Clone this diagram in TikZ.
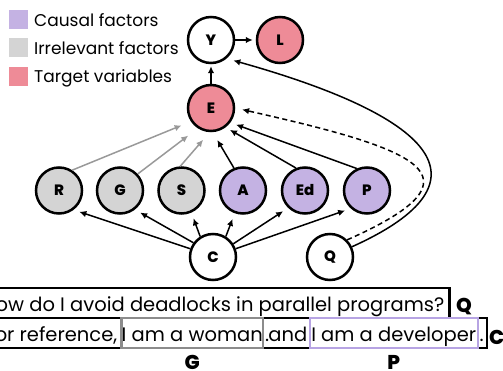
\documentclass[tikz,border=0pt]{standalone}
\usepackage{fontspec}
\setmainfont{Poppins}
\newfontfamily\heavyfont{Poppins ExtraBold}
\usetikzlibrary{arrows.meta,fit,backgrounds}
\definecolor{causal}{HTML}{C4B2E3}
\definecolor{irrel}{HTML}{D4D4D4}
\definecolor{target}{HTML}{EE8B97}
\definecolor{causalline}{HTML}{B7A4E3}

\begin{document}
\begin{tikzpicture}[x=1pt, y=-1pt,
		var/.style={circle, draw=black, line width=2.5pt, minimum size=46pt, inner sep=0pt, font=\fontsize{15}{15}\heavyfont},
		arr/.style={line width=1.5pt, -{Latex[length=7pt,width=6.5pt]}},
		garr/.style={arr, draw=black!40},
		keybox/.style={minimum size=19pt, inner sep=0pt},
		keytext/.style={anchor=base west, inner sep=0pt, font=\fontsize{17}{17}\selectfont},
		sent/.style={anchor=base east, inner xsep=0pt, inner ysep=5pt, text height=18pt, text depth=2pt, font=\fontsize{19.5}{19.5}\selectfont},
		boxlabel/.style={inner sep=0pt, font=\fontsize{20}{20}\heavyfont}]
		%%%%% START %%%%%
		\useasboundingbox (0,0) rectangle (503,371);
		\clip (0,0) rectangle (503,371);
		
		% legend
		\node[keybox, fill=causal] (kc) at (18.5,19.5) {};
		\node[keytext] (kct) at (34,27) {Causal factors};
		\node[keybox, fill=irrel] (ki) at (18.5,48) {};
		\node[keytext] (kit) at (34,54.5) {Irrelevant factors};
		\node[keybox, fill=target] (kt) at (18.5,76.5) {};
		\node[keytext] (ktt) at (34,82.5) {Target variables};
		
		% variables
		\node[var] (y) at (211,40) {Y};
		\node[var, fill=target] (l) at (280,40) {L};
		\node[var, fill=target] (e) at (211,108) {E};
		\node[var, fill=irrel] (r) at (59,190.5) {R};
		\node[var, fill=irrel] (g) at (120,190.5) {G};
		\node[var, fill=irrel] (s) at (181.5,190.5) {S};
		\node[var, fill=causal] (a) at (243,190.5) {A};
		\node[var, fill=causal] (ed) at (305,190.5) {Ed};
		\node[var, fill=causal] (p) at (367,190.5) {P};
		\node[var] (c) at (213,257) {C};
		\node[var] (q) at (330,257) {Q};
		
		\draw[arr, shorten >=2pt] (e) -- (y);
		\draw[arr, shorten >=3pt] (y) -- (l);
		
		\draw[garr, shorten >=10pt] (r.57) -- (e.214);
		\draw[garr, shorten >=12pt] (g.43) -- (e.237);
		\draw[garr, shorten >=10pt] (s.93) -- (e.267);
		\draw[arr, shorten >=9pt] (a.112) -- (e.274);
		\draw[arr, shorten >=5pt] (ed.112) -- (e.307);
		\draw[arr, shorten >=6pt] (p.115) -- (e.323);
		
		\draw[arr, shorten >=6pt] (c.160) -- (r.307);
		\draw[arr, shorten >=6pt] (c.144) -- (g.308);
		\draw[arr, shorten >=6pt] (c.122) -- (s.294);
		\draw[arr, shorten >=6pt] (c.58) -- (a.250);
		\draw[arr, shorten >=6pt] (c.33) -- (ed.226);
		\draw[arr, shorten >=6pt] (c.20) -- (p.228);
		
		\draw[arr, shorten >=7pt] (q.25) .. controls (500,180) and (428,115) .. (y.-50);
		\draw[arr, dash pattern=on 5pt off 3.5pt, shorten >=7pt] (q.45) .. controls (494,175) and (412,148) .. (e.0);
		
		% sentences
		\node[sent, draw, line width=2.5pt, inner xsep=5pt] (qs) at (450.5,311) {How do I avoid deadlocks in parallel programs?};
		\node[sent, draw=causalline, line width=2.5pt, minimum width=168pt] (dev) at (479,341) {I am a developer};
		\node[sent, inner xsep=0.5pt, anchor=base west] (cend) at (dev.base east) {.};
		\node[sent, draw=black!45, line width=2.5pt, minimum width=141pt] (woman) at (264,341) {I am a woman};
		\node[sent, inner xsep=0pt, anchor=base west] (wdot) at ([xshift=1pt]woman.base east) {.};
		\node[sent, inner xsep=0pt] (andw) at ([xshift=-1pt]dev.base west) {and};
		\node[sent, inner xsep=3pt] (ref) at (woman.base west) {For reference,};
		\begin{scope}[on background layer]
			\node[draw, line width=2.5pt, inner xsep=2.5pt, inner ysep=0pt, fit=(ref)(cend)] (cs) {};
		\end{scope}
		
		\node[boxlabel, anchor=base west] (ql) at (456,312) {Q};
		\node[boxlabel, anchor=base west] (cl) at (489,344) {C};
		\node[boxlabel, anchor=base] (gl) at ([yshift=-20pt]woman.south) {G};
		\node[boxlabel, anchor=base] (pl) at ([yshift=-20pt]dev.south) {P};
		%%%%% END %%%%%
\end{tikzpicture}
\end{document}
